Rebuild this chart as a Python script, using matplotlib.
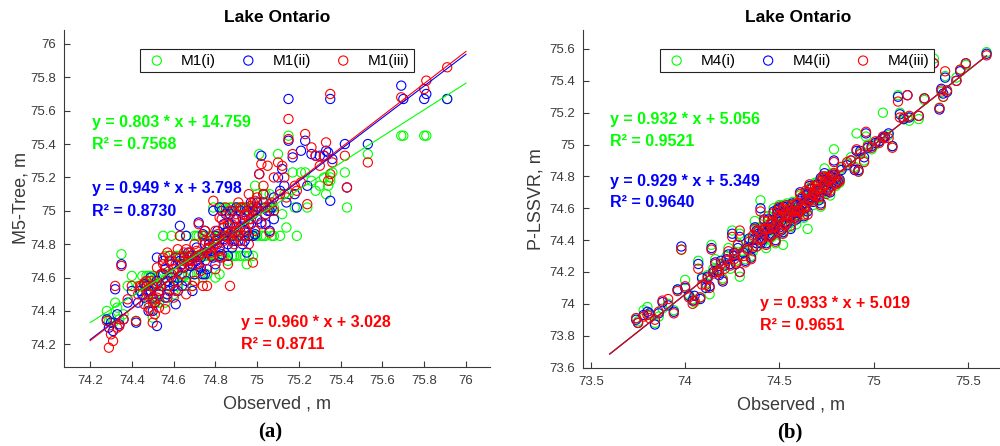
import matplotlib.pyplot as plt
import numpy as np

plt.rcParams['font.family'] = ['Liberation Sans', 'DejaVu Sans']

# ---- panel (a): M5-Tree, Lake Ontario ----
obs_a = [74.28, 74.29, 74.30, 74.31, 74.32, 74.33, 74.34, 74.35, 74.36, 74.38,
         74.40, 74.42, 74.43, 74.45, 74.46, 74.47, 74.48, 74.49, 74.50, 74.50,
         74.51, 74.52, 74.52, 74.53, 74.54, 74.55, 74.56, 74.57, 74.58, 74.59,
         74.60, 74.61, 74.62, 74.63, 74.64, 74.65, 74.66, 74.67, 74.68, 74.69,
         74.70, 74.71, 74.72, 74.73, 74.74, 74.75, 74.75, 74.76, 74.77, 74.78,
         74.79, 74.80, 74.80, 74.81, 74.82, 74.83, 74.84, 74.85, 74.85, 74.86,
         74.87, 74.88, 74.89, 74.90, 74.91, 74.92, 74.93, 74.94, 74.95, 74.96,
         74.97, 74.98, 74.99, 75.00, 75.01, 75.02, 75.03, 75.04, 75.05, 75.06,
         75.07, 75.08, 75.10, 75.11, 75.12, 75.13, 75.14, 75.15, 75.15, 75.17,
         75.18, 75.19, 75.21, 75.23, 75.24, 75.26, 75.28, 75.30, 75.32, 75.33,
         75.34, 75.35, 75.35, 75.36, 75.42, 75.43, 75.53, 75.69, 75.70, 75.80,
         75.81, 75.91,
         74.44, 74.47, 74.49, 74.51, 74.53, 74.55, 74.57, 74.58, 74.60, 74.62,
         74.63, 74.65, 74.66, 74.68, 74.70, 74.72, 74.74, 74.76, 74.77, 74.79,
         74.81, 74.82, 74.83, 74.84, 74.86, 74.87, 74.88, 74.89, 74.90, 74.91,
         74.93, 74.94, 74.95, 74.96, 74.97, 74.98, 74.99, 75.00, 75.02, 75.04,
         75.06, 75.08,
         74.46, 74.48, 74.50, 74.52, 74.54, 74.56, 74.59, 74.61, 74.64, 74.67,
         74.69, 74.71, 74.73, 74.75, 74.78, 74.80, 74.82, 74.84, 74.86, 74.88,
         74.90, 74.92, 74.94, 74.96, 74.98, 75.00, 75.03]
m1_i = [74.40, 74.34, 74.36, 74.33, 74.45, 74.42, 74.35, 74.74, 74.38, 74.55,
        74.61, 74.34, 74.55, 74.61, 74.55, 74.61, 74.45, 74.55, 74.36, 74.61,
        74.47, 74.55, 74.60, 74.45, 74.55, 74.85, 74.45, 74.62, 74.55, 74.85,
        74.50, 74.60, 74.73, 74.85, 74.61, 74.73, 74.55, 74.73, 74.62, 74.55,
        74.85, 74.73, 74.85, 74.73, 74.60, 74.85, 74.73, 74.62, 74.73, 74.85,
        75.02, 74.60, 74.85, 74.73, 75.02, 74.85, 74.73, 75.00, 74.85, 74.70,
        74.85, 75.02, 74.73, 74.85, 75.02, 74.73, 74.85, 75.02, 74.68, 74.85,
        75.02, 74.73, 75.15, 74.85, 75.34, 75.02, 75.10, 74.85, 75.02, 75.10,
        74.85, 75.02, 75.34, 74.85, 74.98, 75.10, 74.90, 75.45, 75.10, 75.23,
        75.02, 74.85, 75.23, 75.23, 75.02, 75.18, 75.12, 75.15, 75.20, 75.10,
        75.15, 75.20, 75.18, 75.23, 75.23, 75.02, 75.34, 75.45, 75.45, 75.45,
        75.45, 75.67,
        74.55, 74.50, 74.61, 74.55, 74.45, 74.62, 74.55, 74.73, 74.60, 74.55,
        74.73, 74.61, 74.85, 74.73, 74.62, 74.73, 74.85, 74.73, 74.85, 74.73,
        74.85, 74.62, 75.02, 74.85, 74.90, 75.02, 74.73, 74.85, 75.02, 74.85,
        75.02, 74.85, 75.02, 74.73, 74.85, 75.02, 74.85, 75.10, 74.85, 75.10,
        75.02, 74.85,
        74.55, 74.61, 74.45, 74.55, 74.61, 74.73, 74.62, 74.73, 74.73, 74.62,
        74.73, 74.85, 74.62, 74.73, 74.73, 74.73, 74.85, 75.02, 74.85, 74.85,
        74.73, 75.02, 74.73, 75.02, 74.85, 75.02, 74.85]
m1_ii = [74.35, 74.30, 74.33, 74.28, 74.53, 74.38, 74.32, 74.68, 74.35, 74.45,
         74.52, 74.33, 74.45, 74.50, 74.48, 74.55, 74.40, 74.52, 74.40, 74.55,
         74.45, 74.31, 74.72, 74.50, 74.55, 74.70, 74.48, 74.58, 74.52, 74.68,
         74.55, 74.44, 74.64, 74.91, 74.55, 74.72, 74.58, 74.75, 74.67, 74.52,
         74.72, 74.70, 74.93, 74.72, 74.62, 74.88, 74.62, 74.65, 74.78, 74.73,
         75.00, 74.68, 74.85, 74.80, 75.02, 74.74, 74.85, 74.98, 74.87, 74.73,
         74.92, 75.00, 74.82, 74.95, 74.85, 74.90, 74.80, 74.94, 74.75, 74.85,
         75.05, 74.85, 75.00, 74.95, 75.22, 75.33, 75.10, 74.92, 75.00, 74.88,
         75.02, 75.08, 75.20, 75.12, 75.25, 75.15, 75.05, 75.67, 75.42, 75.32,
         75.10, 75.02, 75.36, 75.42, 75.15, 75.34, 75.33, 75.33, 75.33, 75.36,
         75.35, 75.67, 75.06, 75.31, 75.40, 75.14, 75.40, 75.75, 75.67, 75.67,
         75.70, 75.67,
         74.52, 74.55, 74.60, 74.45, 74.52, 74.62, 74.50, 74.70, 74.58, 74.52,
         74.70, 74.66, 74.85, 74.73, 74.62, 74.68, 74.86, 74.75, 74.80, 74.72,
         74.88, 74.73, 75.00, 74.83, 74.88, 74.98, 74.78, 74.90, 75.02, 74.82,
         74.96, 74.88, 75.00, 74.85, 74.92, 74.98, 74.86, 75.05, 74.93, 75.02,
         75.00, 74.95,
         74.56, 74.52, 74.48, 74.58, 74.62, 74.65, 74.60, 74.72, 74.68, 74.70,
         74.68, 74.78, 74.66, 74.80, 74.76, 74.82, 74.78, 74.92, 74.80, 74.85,
         74.88, 75.00, 74.82, 74.92, 75.00, 75.02, 75.05]
m1_iii = [74.34, 74.18, 74.26, 74.22, 74.55, 74.30, 74.31, 74.67, 74.35, 74.47,
          74.55, 74.34, 74.50, 74.55, 74.44, 74.58, 74.42, 74.40, 74.33, 74.55,
          74.38, 74.48, 74.66, 74.52, 74.55, 74.72, 74.41, 74.75, 74.55, 74.70,
          74.48, 74.52, 74.77, 74.85, 74.62, 74.75, 74.50, 74.68, 74.70, 74.55,
          74.80, 74.68, 74.92, 74.74, 74.55, 74.88, 74.70, 74.55, 74.78, 74.75,
          75.06, 74.65, 74.88, 74.83, 74.96, 74.72, 74.90, 75.02, 74.85, 74.68,
          74.55, 74.92, 74.80, 74.88, 75.05, 74.82, 74.92, 74.98, 74.88, 75.10,
          75.03, 74.69, 75.06, 75.00, 75.22, 75.28, 75.15, 74.98, 75.27, 74.87,
          75.05, 75.20, 75.29, 75.10, 75.27, 75.20, 75.08, 75.55, 75.43, 75.34,
          75.15, 75.12, 75.17, 75.46, 75.04, 75.38, 75.33, 75.27, 75.33, 75.41,
          75.18, 75.70, 75.22, 75.29, 75.33, 75.14, 75.29, 75.68, 75.86, 75.73,
          75.78, 75.86,
          74.55, 74.52, 74.58, 74.45, 74.42, 74.68, 74.48, 74.73, 74.65, 74.58,
          74.72, 74.70, 74.77, 74.75, 74.58, 74.73, 74.85, 74.77, 74.82, 74.78,
          74.86, 74.72, 74.95, 74.82, 74.92, 75.00, 74.82, 74.95, 74.98, 74.85,
          75.02, 74.90, 74.97, 74.80, 74.95, 75.02, 74.88, 75.08, 74.92, 75.02,
          75.04, 75.00,
          74.57, 74.50, 74.47, 74.56, 74.62, 74.66, 74.62, 74.68, 74.66, 74.72,
          74.70, 74.76, 74.64, 74.82, 74.73, 74.80, 74.76, 74.90, 74.84, 74.87,
          74.90, 75.02, 74.85, 74.95, 75.05, 75.00, 75.10]
fit_a = {'i': (0.803, 14.759, 0.7568), 'ii': (0.949, 3.798, 0.8730), 'iii': (0.960, 3.028, 0.8711)}
# fitted lines as drawn in the figure: y at the two ends of line_x_a
line_x_a = [74.2, 76.0]
line_y_a = {'i': [74.33, 75.765], 'ii': [74.228, 75.938], 'iii': [74.222, 75.955]}

# ---- panel (b): P-LSSVR, Lake Ontario ----
obs_b = [73.74, 73.75, 73.78, 73.80, 73.81, 73.84, 73.86, 73.88, 73.91, 73.94,
         73.96, 73.98, 74.00, 74.02, 74.04, 74.05, 74.07, 74.08, 74.09, 74.11,
         74.13, 74.14, 74.15, 74.16, 74.18, 74.19, 74.20, 74.22, 74.23, 74.24,
         74.25, 74.26, 74.27, 74.28, 74.29, 74.29, 74.31, 74.32, 74.33, 74.34,
         74.35, 74.36, 74.37, 74.38, 74.39, 74.40, 74.40, 74.41, 74.42, 74.43,
         74.44, 74.45, 74.46, 74.47, 74.48, 74.48, 74.49, 74.50, 74.50, 74.51,
         74.52, 74.52, 74.53, 74.54, 74.55, 74.56, 74.57, 74.58, 74.59, 74.60,
         74.61, 74.62, 74.63, 74.64, 74.65, 74.65, 74.66, 74.67, 74.68, 74.69,
         74.70, 74.71, 74.72, 74.72, 74.73, 74.74, 74.75, 74.76, 74.77, 74.78,
         74.79, 74.80, 74.81, 74.83, 74.86, 74.88, 74.90, 74.91, 74.92, 74.93,
         74.95, 74.96, 74.97, 74.99, 75.01, 75.03, 75.05, 75.06, 75.08, 75.10,
         75.13, 75.14, 75.16, 75.18, 75.19, 75.24, 75.27, 75.32, 75.35, 75.36,
         75.37, 75.38, 75.39, 75.44, 75.46, 75.49, 75.60,
         74.36, 74.38, 74.41, 74.42, 74.44, 74.45, 74.46, 74.47, 74.49, 74.50,
         74.51, 74.52, 74.53, 74.54, 74.55, 74.56, 74.57, 74.58, 74.59, 74.60,
         74.61, 74.62, 74.63, 74.64, 74.65, 74.66, 74.67, 74.68, 74.69, 74.70,
         74.71, 74.72, 74.73, 74.74, 74.75, 74.76, 74.77, 74.78, 74.79, 74.80,
         74.82, 74.26, 74.21, 74.17, 74.12]
m4_i = [73.91, 73.89, 73.96, 73.98, 73.93, 73.88, 73.92, 73.97, 74.00, 73.96,
        74.09, 74.34, 74.15, 74.06, 74.03, 74.01, 74.27, 74.04, 74.17, 74.13,
        74.06, 74.37, 74.22, 74.28, 74.20, 74.25, 74.16, 74.30, 74.35, 74.22,
        74.46, 74.32, 74.27, 74.38, 74.17, 74.44, 74.33, 74.28, 74.36, 74.40,
        74.30, 74.42, 74.52, 74.36, 74.45, 74.65, 74.40, 74.48, 74.55, 74.35,
        74.45, 74.50, 74.42, 74.60, 74.52, 74.38, 74.56, 74.47, 74.62, 74.53,
        74.37, 74.58, 74.50, 74.63, 74.55, 74.48, 74.60, 74.52, 74.64, 74.56,
        74.68, 74.60, 74.54, 74.70, 74.47, 74.65, 74.72, 74.68, 74.62, 74.76,
        74.70, 74.66, 74.78, 74.61, 74.74, 74.85, 74.70, 74.76, 74.68, 74.82,
        74.97, 74.74, 74.78, 74.85, 74.88, 74.92, 74.86, 75.07, 74.83, 74.95,
        74.90, 75.05, 75.00, 74.97, 75.00, 75.02, 75.20, 75.05, 75.06, 74.99,
        75.31, 75.20, 75.16, 75.17, 75.15, 75.16, 75.28, 75.54, 75.23, 75.33,
        75.30, 75.43, 75.34, 75.42, 75.47, 75.50, 75.58,
        74.33, 74.48, 74.38, 74.46, 74.55, 74.41, 74.52, 74.46, 74.60, 74.52,
        74.44, 74.62, 74.56, 74.48, 74.60, 74.53, 74.64, 74.58, 74.50, 74.62,
        74.57, 74.67, 74.62, 74.58, 74.70, 74.64, 74.74, 74.70, 74.66, 74.76,
        74.72, 74.68, 74.79, 74.75, 74.80, 74.72, 74.78, 74.74, 74.82, 74.78,
        74.76, 74.30, 74.25, 74.22, 74.18]
m4_ii = [73.90, 73.88, 73.93, 73.95, 73.94, 73.87, 73.94, 74.01, 73.99, 73.95,
         74.09, 74.36, 74.10, 74.05, 74.02, 74.05, 74.25, 74.03, 74.16, 74.10,
         74.11, 74.35, 74.20, 74.26, 74.18, 74.27, 74.14, 74.28, 74.31, 74.25,
         74.44, 74.30, 74.25, 74.35, 74.20, 74.42, 74.32, 74.27, 74.35, 74.41,
         74.29, 74.40, 74.48, 74.38, 74.44, 74.60, 74.38, 74.46, 74.53, 74.38,
         74.46, 74.48, 74.44, 74.58, 74.50, 74.40, 74.57, 74.48, 74.60, 74.52,
         74.45, 74.57, 74.51, 74.61, 74.54, 74.47, 74.59, 74.54, 74.62, 74.57,
         74.70, 74.62, 74.55, 74.68, 74.58, 74.66, 74.74, 74.67, 74.64, 74.74,
         74.71, 74.65, 74.79, 74.63, 74.72, 74.82, 74.71, 74.77, 74.70, 74.80,
         74.90, 74.76, 74.77, 74.84, 74.87, 74.90, 74.84, 74.96, 74.84, 74.96,
         74.92, 75.07, 74.98, 74.99, 75.01, 75.02, 75.04, 75.05, 75.07, 74.99,
         75.30, 75.19, 75.16, 75.31, 75.17, 75.18, 75.29, 75.51, 75.22, 75.35,
         75.32, 75.42, 75.33, 75.40, 75.46, 75.51, 75.57,
         74.35, 74.46, 74.40, 74.44, 74.53, 74.43, 74.50, 74.47, 74.59, 74.54,
         74.46, 74.61, 74.55, 74.50, 74.58, 74.55, 74.63, 74.57, 74.53, 74.61,
         74.59, 74.66, 74.63, 74.60, 74.69, 74.65, 74.72, 74.68, 74.67, 74.75,
         74.71, 74.70, 74.78, 74.74, 74.78, 74.73, 74.80, 74.76, 74.81, 74.79,
         74.78, 74.32, 74.24, 74.21, 74.17]
m4_iii = [73.91, 73.88, 73.92, 73.93, 73.91, 73.90, 73.95, 74.02, 74.03, 73.94,
          74.08, 74.34, 74.11, 74.04, 74.00, 74.02, 74.22, 74.04, 74.12, 74.12,
          74.10, 74.34, 74.19, 74.25, 74.21, 74.25, 74.15, 74.27, 74.33, 74.24,
          74.42, 74.28, 74.26, 74.37, 74.20, 74.46, 74.30, 74.26, 74.34, 74.39,
          74.28, 74.43, 74.47, 74.36, 74.46, 74.58, 74.40, 74.44, 74.52, 74.37,
          74.47, 74.50, 74.43, 74.57, 74.49, 74.39, 74.55, 74.46, 74.61, 74.54,
          74.44, 74.59, 74.50, 74.62, 74.56, 74.49, 74.58, 74.55, 74.63, 74.58,
          74.69, 74.61, 74.56, 74.71, 74.56, 74.64, 74.75, 74.66, 74.65, 74.74,
          74.72, 74.67, 74.77, 74.62, 74.73, 74.80, 74.69, 74.78, 74.71, 74.81,
          74.89, 74.75, 74.76, 74.86, 74.89, 74.90, 74.85, 74.97, 74.83, 74.94,
          74.89, 75.08, 74.99, 74.98, 75.02, 75.01, 75.05, 75.04, 75.04, 74.98,
          75.27, 75.17, 75.17, 75.31, 75.18, 75.18, 75.29, 75.51, 75.23, 75.34,
          75.30, 75.46, 75.34, 75.40, 75.47, 75.51, 75.56,
          74.36, 74.45, 74.41, 74.47, 74.52, 74.42, 74.51, 74.48, 74.58, 74.55,
          74.47, 74.60, 74.56, 74.51, 74.59, 74.54, 74.62, 74.58, 74.54, 74.63,
          74.58, 74.67, 74.60, 74.61, 74.70, 74.66, 74.73, 74.69, 74.68, 74.74,
          74.72, 74.70, 74.80, 74.75, 74.79, 74.72, 74.79, 74.74, 74.82, 74.80,
          74.77, 74.31, 74.22, 74.20, 74.16]
fit_b = {'i': (0.932, 5.056, 0.9521), 'ii': (0.929, 5.349, 0.9640), 'iii': (0.933, 5.019, 0.9651)}
line_x_b = [73.6, 75.6]
line_y_b = {'i': [73.686, 75.556], 'ii': [73.684, 75.558], 'iii': [73.685, 75.557]}

colors = {'i': (0, 1, 0), 'ii': (0, 0, 1), 'iii': (1, 0, 0)}
grey = '#3a3a3a'

fig = plt.figure(figsize=(10, 4.46), dpi=100)
ax_a = fig.add_axes([0.064, 0.177, 0.426, 0.756])
ax_b = fig.add_axes([0.583, 0.176, 0.416, 0.757])


def draw(ax, obs, preds, fits, prefix, line_x, line_y, text_pos):
    for key, pred in preds:
        ax.scatter(obs, pred, s=44, facecolors='none', edgecolors=colors[key],
                   linewidths=0.8, label=f'{prefix}({key})', zorder=2)
    for key, pred in preds:
        m, c, r2 = fits[key]
        ax.plot(line_x, line_y[key], color=colors[key], lw=0.8, zorder=3)
        tx, ty, ry = text_pos[key]
        ax.text(tx, ty, f'y = {m:.3f} * x + {c:.3f}', color=colors[key],
                fontsize=11.5, fontweight='bold', va='center', zorder=4)
        ax.text(tx, ry, f'R² = {r2:.4f}', color=colors[key],
                fontsize=11.5, fontweight='bold', va='center', zorder=4)
    for s in ['top', 'right']:
        ax.spines[s].set_visible(False)
    for s in ['left', 'bottom']:
        ax.spines[s].set_color(grey)
        ax.spines[s].set_linewidth(0.8)
    ax.tick_params(direction='in', length=4, colors=grey, labelsize=9.5, pad=6)
    ax.set_xlabel('Observed , m', fontsize=13, color=grey)
    ax.xaxis.set_label_coords(0.5, -0.085)


draw(ax_a, obs_a, [('i', m1_i), ('ii', m1_ii), ('iii', m1_iii)], fit_a, 'M1',
     line_x_a, line_y_a,
     {'i': (74.21, 75.532, 75.395), 'ii': (74.21, 75.131, 74.993),
      'iii': (74.922, 74.333, 74.201)})
ax_a.set_xlim(74.075, 76.115)
ax_a.set_ylim(74.064, 76.084)
ax_a.set_xticks(np.arange(74.2, 76.01, 0.2))
ax_a.set_xticklabels(['74.2', '74.4', '74.6', '74.8', '75', '75.2', '75.4', '75.6', '75.8', '76'])
ax_a.set_yticks(np.arange(74.2, 76.01, 0.2))
ax_a.set_yticklabels(['74.2', '74.4', '74.6', '74.8', '75', '75.2', '75.4', '75.6', '75.8', '76'])
ax_a.set_ylabel('M5-Tree, m', fontsize=13, color=grey)
ax_a.yaxis.set_label_coords(-0.08, 0.5)
ax_a.set_title('Lake Ontario', fontsize=12.5, fontweight='bold', pad=6)

draw(ax_b, obs_b, [('i', m4_i), ('ii', m4_ii), ('iii', m4_iii)], fit_b, 'M4',
     line_x_b, line_y_b,
     {'i': (73.602, 75.156, 75.018), 'ii': (73.602, 74.766, 74.635),
      'iii': (74.398, 74.0, 73.862)})
ax_b.set_xlim(73.458, 75.666)
ax_b.set_ylim(73.6, 75.72)
ax_b.set_xticks([73.5, 74, 74.5, 75, 75.5])
ax_b.set_xticklabels(['73.5', '74', '74.5', '75', '75.5'])
ax_b.set_yticks(np.arange(73.6, 75.61, 0.2))
ax_b.set_yticklabels(['73.6', '73.8', '74', '74.2', '74.4', '74.6', '74.8', '75', '75.2', '75.4', '75.6'])
ax_b.set_ylabel('P-LSSVR, m', fontsize=13, color=grey)
ax_b.yaxis.set_label_coords(-0.093, 0.5)
ax_b.set_title('Lake Ontario', fontsize=12.5, fontweight='bold', pad=6, x=0.517)

for ax, cx in [(ax_a, 0.5), (ax_b, 0.514)]:
    leg = ax.legend(loc='upper center', bbox_to_anchor=(cx, 0.966), ncol=3,
                    fontsize=11, frameon=True, fancybox=False, framealpha=1,
                    edgecolor='#222222', handletextpad=0.8, columnspacing=1.3,
                    borderpad=0.3, handlelength=1.6)
    leg.get_frame().set_linewidth(0.8)

fig.text(0.270, 0.031, '(a)', fontsize=15, fontweight='bold',
         family=['Liberation Serif', 'DejaVu Serif'], ha='center', va='center')
fig.text(0.790, 0.031, '(b)', fontsize=15, fontweight='bold',
         family=['Liberation Serif', 'DejaVu Serif'], ha='center', va='center')

fig.savefig('out.png', dpi=100)
